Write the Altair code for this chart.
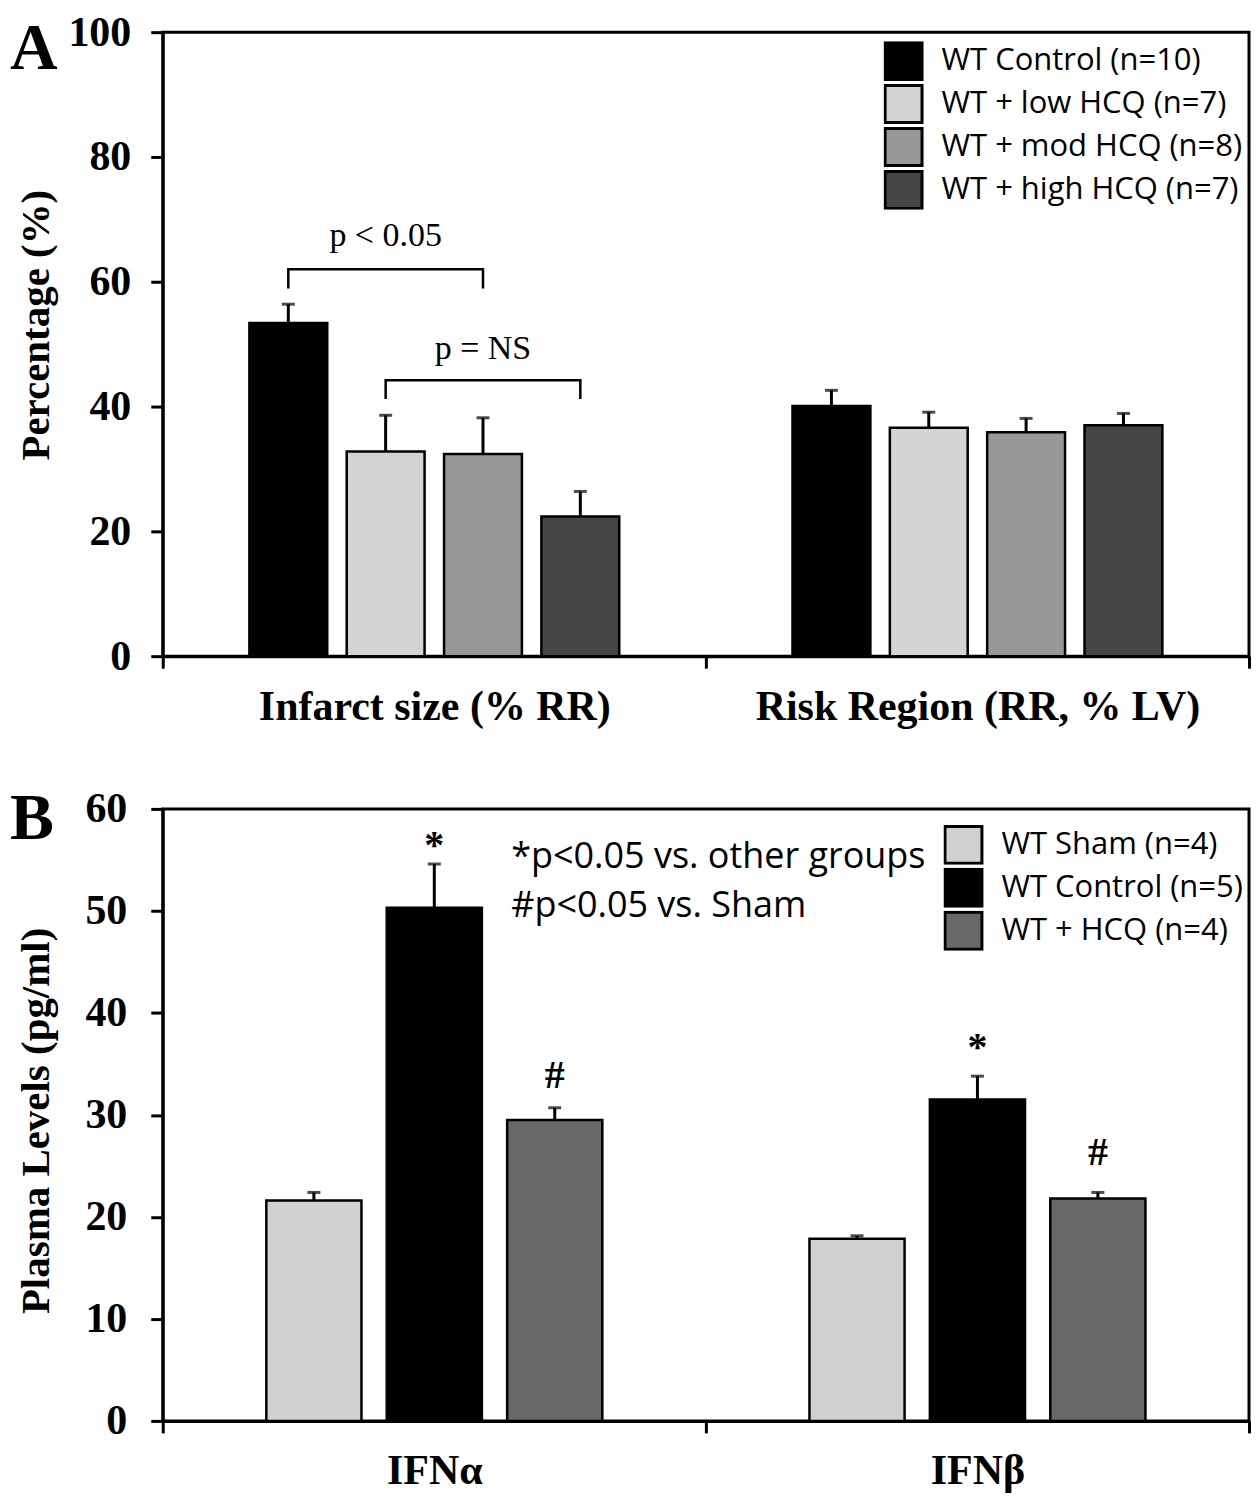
import altair as alt
import pandas as pd

# ---------------- Panel A data ----------------
cats_a = ["Infarct size (% RR)", "Risk Region (RR, % LV)"]
groups_a = ["WT Control (n=10)", "WT + low HCQ (n=7)", "WT + mod HCQ (n=8)", "WT + high HCQ (n=7)"]
colors_a = ["#000000", "#d3d3d3", "#989898", "#454545"]
infarct_mean = [53.4, 32.8, 32.4, 22.4]
infarct_err = [3.0, 5.8, 5.8, 4.0]
risk_mean = [40.1, 36.6, 35.9, 37.0]
risk_err = [2.5, 2.5, 2.2, 1.9]

bracket_labels = ["p < 0.05", "p = NS"]
bracket_left = [groups_a[0], groups_a[1]]
bracket_right = [groups_a[2], groups_a[3]]
bracket_mid = [groups_a[1], groups_a[2]]
bracket_top = [62.0, 44.2]
bracket_foot = [58.9, 41.2]
bracket_text_y = [65.8, 47.6]

# ---------------- Panel B data ----------------
cats_b = ["IFNα", "IFNβ"]
groups_b = ["WT Sham (n=4)", "WT Control (n=5)", "WT + HCQ (n=4)"]
colors_b = ["#d0d0d0", "#000000", "#686868"]
ifna_mean = [21.6, 50.3, 29.5]
ifna_err = [0.8, 4.3, 1.2]
ifnb_mean = [17.85, 31.5, 21.8]
ifnb_err = [0.3, 2.3, 0.6]
sig_marks = ["*", "#", "*", "#"]
sig_cat = [cats_b[0], cats_b[0], cats_b[1], cats_b[1]]
sig_group = [groups_b[1], groups_b[2], groups_b[1], groups_b[2]]
sig_y = [55.2, 32.6, 35.4, 25.1]
note_lines = ["*p<0.05 vs. other groups", "#p<0.05 vs. Sham"]
note_y = [54.2, 49.4]

SERIF = "Liberation Serif"
SANS = "Open Sans"

# ---------------- tables ----------------
rows_a = []
for cat, means, errs in [(cats_a[0], infarct_mean, infarct_err), (cats_a[1], risk_mean, risk_err)]:
    for g, m, e in zip(groups_a, means, errs):
        rows_a.append({"cat": cat, "grp": g, "mean": m, "upper": m + e})
df_a = pd.DataFrame(rows_a)

br_rows = []
for i in range(len(bracket_labels)):
    pts = [(bracket_left[i], bracket_foot[i]), (bracket_left[i], bracket_top[i]),
           (bracket_right[i], bracket_top[i]), (bracket_right[i], bracket_foot[i])]
    for k, (g, v) in enumerate(pts):
        br_rows.append({"cat": cats_a[0], "grp": g, "v": v, "b": i, "o": k})
df_br = pd.DataFrame(br_rows)
df_brt = pd.DataFrame({"cat": [cats_a[0]] * 2, "grp": bracket_mid, "v": bracket_text_y, "t": bracket_labels})

rows_b = []
for cat, means, errs in [(cats_b[0], ifna_mean, ifna_err), (cats_b[1], ifnb_mean, ifnb_err)]:
    for g, m, e in zip(groups_b, means, errs):
        rows_b.append({"cat": cat, "grpb": g, "mean": m, "upper": m + e})
df_b = pd.DataFrame(rows_b)
df_sig = pd.DataFrame({"cat": sig_cat, "grpb": sig_group, "v": sig_y, "t": sig_marks})
df_note = pd.DataFrame({"v": note_y, "t": note_lines})

# ---------------- Panel A ----------------
W = 1088
HA = 625
HB = 613

def xa():
    return alt.X("cat:N", scale=alt.Scale(domain=cats_a, paddingInner=0, paddingOuter=0),
                 axis=alt.Axis(title=None, labelAngle=0, tickBand="extent", labelPadding=18,
                               labelFontSize=42, labelLimit=700))

def xoa(field="grp"):
    return alt.XOffset(f"{field}:N", scale=alt.Scale(domain=groups_a, paddingInner=0.2, paddingOuter=0.89))

def ya(field):
    return alt.Y(f"{field}:Q", scale=alt.Scale(domain=[0, 100], nice=False),
                 axis=alt.Axis(values=[0, 20, 40, 60, 80, 100], title="Percentage (%)",
                               titlePadding=10, labelPadding=20, titleY=293))

bars_a = alt.Chart(df_a).mark_bar(stroke="black", strokeWidth=2.5).encode(
    x=xa(), xOffset=xoa(), y=ya("mean"),
    color=alt.Color("grp:N", scale=alt.Scale(domain=groups_a, range=colors_a),
                    legend=alt.Legend(title=None, orient="none", legendX=722, legendY=9)),
)
err_a = alt.Chart(df_a).mark_rule(color="black", strokeWidth=3).encode(
    x=xa(), xOffset=xoa(), y=ya("mean"), y2="upper:Q")
cap_a = alt.Chart(df_a).mark_tick(color="black", thickness=3, size=13, orient="horizontal").encode(
    x=xa(), xOffset=xoa(), y=ya("upper"))
br_a = alt.Chart(df_br).mark_line(color="black", strokeWidth=2.5).encode(
    x=xa(), xOffset=xoa(), y=ya("v"), detail="b:N", order="o:Q")
brt_a = alt.Chart(df_brt).mark_text(font=SERIF, fontSize=34, color="black", baseline="alphabetic").encode(
    x=xa(), xOffset=xoa(), y=ya("v"), text="t:N")
lab_a = alt.Chart(pd.DataFrame({"t": ["A"]})).mark_text(
    font=SERIF, fontSize=66, fontWeight="bold", color="black", align="left", baseline="alphabetic"
).encode(x=alt.value(-153), y=alt.value(37), text="t:N")

chart_a = alt.layer(bars_a, err_a, cap_a, br_a, brt_a, lab_a).properties(width=W, height=HA)

# ---------------- Panel B ----------------
def xb():
    return alt.X("cat:N", scale=alt.Scale(domain=cats_b, paddingInner=0, paddingOuter=0),
                 axis=alt.Axis(title=None, labelAngle=0, tickBand="extent", labelPadding=18,
                               labelFontSize=42, labelLimit=700))

def xob():
    return alt.XOffset("grpb:N", scale=alt.Scale(domain=groups_b, paddingInner=0.21, paddingOuter=0.86))

def yb(field):
    return alt.Y(f"{field}:Q", scale=alt.Scale(domain=[0, 60], nice=False),
                 axis=alt.Axis(values=[0, 10, 20, 30, 40, 50, 60], title="Plasma Levels (pg/ml)",
                               titlePadding=27, labelPadding=24, titleY=312))

bars_b = alt.Chart(df_b).mark_bar(stroke="black", strokeWidth=2.5).encode(
    x=xb(), xOffset=xob(), y=yb("mean"),
    color=alt.Color("grpb:N", scale=alt.Scale(domain=groups_b, range=colors_b),
                    legend=alt.Legend(title=None, orient="none", legendX=782, legendY=16)),
)
err_b = alt.Chart(df_b).mark_rule(color="black", strokeWidth=3).encode(
    x=xb(), xOffset=xob(), y=yb("mean"), y2="upper:Q")
cap_b = alt.Chart(df_b).mark_tick(color="black", thickness=3, size=13, orient="horizontal").encode(
    x=xb(), xOffset=xob(), y=yb("upper"))
sig_b = alt.Chart(df_sig).mark_text(font=SERIF, fontSize=40, fontWeight="bold", color="black",
                                    baseline="alphabetic").encode(
    x=xb(), xOffset=xob(), y=yb("v"), text="t:N")
note_b = alt.Chart(df_note).mark_text(font=SANS, fontSize=36, color="black", align="left",
                                      baseline="alphabetic").encode(
    x=alt.value(349), y=yb("v"), text="t:N")
lab_b = alt.Chart(pd.DataFrame({"t": ["B"]})).mark_text(
    font=SERIF, fontSize=66, fontWeight="bold", color="black", align="left", baseline="alphabetic"
).encode(x=alt.value(-153), y=alt.value(30), text="t:N")

chart_b = alt.layer(bars_b, err_b, cap_b, sig_b, note_b, lab_b).properties(width=W, height=HB)

chart = alt.vconcat(chart_a, chart_b, spacing=55).resolve_scale(
    color="independent", xOffset="independent").resolve_legend(color="independent").properties(
    padding=0).configure_view(
    stroke="black", strokeWidth=3
).configure_axis(
    domainColor="black", domainWidth=3, tickColor="black", tickWidth=3, tickSize=12,
    grid=False, labelFont=SERIF, labelFontWeight="bold", labelFontSize=42, labelColor="black",
    titleFont=SERIF, titleFontWeight="bold", titleFontSize=41, titleColor="black",
).configure_legend(
    labelFont=SANS, labelFontSize=31, labelColor="black", symbolType="square", symbolSize=1369,
    symbolStrokeColor="black", symbolStrokeWidth=3, rowPadding=3, clipHeight=40, labelOffset=18,
    symbolOpacity=1, labelLimit=400,
)

chart.save("out.html", embed_options={"renderer": "svg", "actions": False})
